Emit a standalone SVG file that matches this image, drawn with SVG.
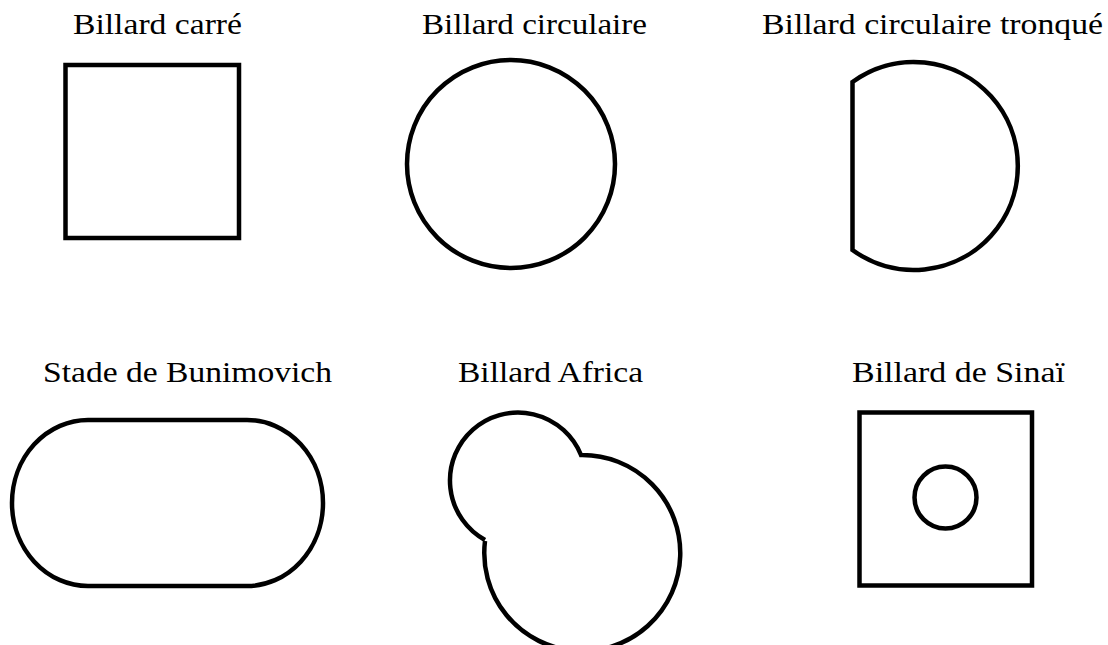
<svg xmlns="http://www.w3.org/2000/svg" width="1108" height="645" viewBox="0 0 1108 645">
<style>
.s{fill:none;stroke:#000;stroke-width:4.5}
.t{font-family:"Liberation Serif","DejaVu Serif",serif;font-size:30px;fill:#000}
</style>
<rect width="1108" height="645" fill="#fff"/>
<g id="carre">
<text class="t" x="73" y="34" textLength="169" lengthAdjust="spacingAndGlyphs">Billard carré</text>
<rect class="s" x="65.5" y="65" width="173.5" height="173"/>
</g>
<g id="circulaire">
<text class="t" x="422" y="34" textLength="225" lengthAdjust="spacingAndGlyphs">Billard circulaire</text>
<circle class="s" cx="511" cy="164" r="104"/>
</g>
<g id="tronque">
<text class="t" x="762" y="34" textLength="341" lengthAdjust="spacingAndGlyphs">Billard circulaire tronqué</text>
<path class="s" d="M852.5 82 A104 104 0 1 1 852.5 250 Z"/>
</g>
<g id="stade">
<text class="t" x="43" y="382" textLength="289" lengthAdjust="spacingAndGlyphs">Stade de Bunimovich</text>
<path class="s" d="M88 420 L247 420 A76 83 0 0 1 247 586 L88 586 A76 83 0 0 1 88 420 Z"/>
</g>
<g id="africa">
<text class="t" x="458" y="382" textLength="185" lengthAdjust="spacingAndGlyphs">Billard Africa</text>
<path class="s" d="M485 540 A68 68 0 1 1 581 455 A98 98 0 1 1 485 541"/>
</g>
<g id="sinai">
<text class="t" x="852" y="382" textLength="213" lengthAdjust="spacingAndGlyphs">Billard de Sinaï</text>
<rect class="s" x="859.5" y="412.5" width="172.5" height="173"/>
<circle class="s" cx="945.5" cy="497.5" r="31"/>
</g>
<g id="connectors"/>
</svg>
